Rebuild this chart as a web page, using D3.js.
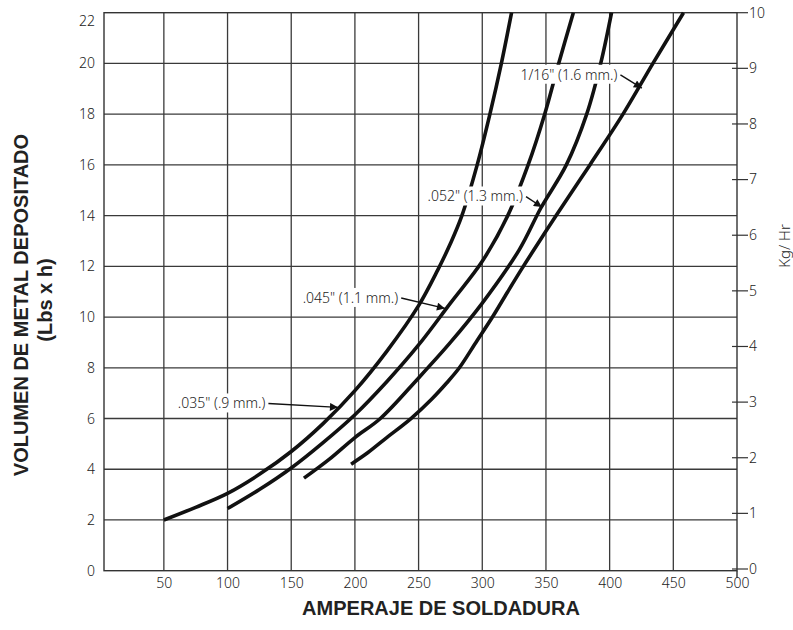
<!DOCTYPE html>
<html>
<head>
<meta charset="utf-8">
<script src="https://cdn.jsdelivr.net/npm/d3@7"></script>
<style>
  body { margin: 0; background: #ffffff; }
  svg { display: block; }
</style>
</head>
<body>
<div id="chart"></div>
<script>
// axis ticks
const ampTicks = [50, 100, 150, 200, 250, 300, 350, 400, 450, 500];
const lbsTicks = [0, 2, 4, 6, 8, 10, 12, 14, 16, 18, 20, 22];
const kgTicks = [0, 1, 2, 3, 4, 5, 6, 7, 8, 9, 10];

// wire sizes (amps -> lbs/h)
const amps035 = [50, 75, 100, 125, 150, 175, 200, 225, 250, 265, 275, 284, 296, 306, 315, 323];
const lbs035 = [2.0, 2.5, 3.05, 3.8, 4.7, 5.8, 7.1, 8.65, 10.45, 11.85, 12.9, 14.0, 16.0, 18.0, 20.0, 22.0];

const amps045 = [100, 125, 150, 175, 200, 225, 250, 275, 300, 320, 336, 349, 360, 371.5];
const lbs045 = [2.45, 3.2, 4.05, 5.05, 6.15, 7.45, 8.9, 10.55, 12.2, 14.0, 16.0, 18.0, 20.0, 22.0];

const amps052 = [160, 180, 200, 220, 250, 275, 300, 329, 346, 366, 382, 393, 401.5];
const lbs052 = [3.65, 4.4, 5.25, 6.0, 7.6, 9.0, 10.55, 12.65, 14.3, 16.0, 18.0, 20.0, 22.0];

const amps116 = [197, 210, 225, 244, 260, 272, 282, 295, 308, 320, 331, 345, 358, 384.5, 410.5, 434, 458];
const lbs116 = [4.2, 4.65, 5.25, 6.0, 6.75, 7.4, 8.0, 9.0, 10.0, 11.0, 11.9, 13.0, 14.0, 16.0, 18.0, 20.0, 22.0];

// callouts: label position and arrow tip, in data units
const calloutText = ['.035" (.9 mm.)', '.045" (1.1 mm.)', '.052" (1.3 mm.)', '1/16" (1.6 mm.)'];
const calloutAmp = [61, 159, 257, 330];
const calloutLbs = [6.59, 10.75, 14.75, 19.55];
const tipAmp = [186.7, 270.7, 346.8, 425.3];
const tipLbs = [6.44, 10.34, 14.34, 19.03];

const width = 793;
const height = 630;
const plot = { left: 104, right: 737, top: 12.7, bottom: 570.7 };

const lightFont = "'Noto Sans', 'DejaVu Sans', sans-serif";
const boldFont = "'Liberation Sans', Arial, sans-serif";

const x = d3.scaleLinear().domain([3, 500]).range([plot.left, plot.right]);
const y = d3.scaleLinear().domain([0, 22]).range([plot.bottom, plot.top]);
const yKg = d3.scaleLinear().domain([0, 10]).range([569, plot.top]);

const svg = d3
  .select("#chart")
  .append("svg")
  .attr("width", width)
  .attr("height", height);

// arrowhead
svg
  .append("defs")
  .append("marker")
  .attr("id", "arrow")
  .attr("viewBox", "0 0 10 10")
  .attr("refX", 10)
  .attr("refY", 5)
  .attr("markerWidth", 11)
  .attr("markerHeight", 8)
  .attr("markerUnits", "userSpaceOnUse")
  .attr("orient", "auto")
  .append("path")
  .attr("d", "M0,0 L10,5 L0,10 Z")
  .attr("fill", "#111");

// grid
const grid = svg.append("g").attr("stroke", "#3a3a3a").attr("stroke-width", 1.3);
grid
  .selectAll("line.v")
  .data(ampTicks.filter((d) => d < 500))
  .enter()
  .append("line")
  .attr("x1", (d) => x(d))
  .attr("x2", (d) => x(d))
  .attr("y1", plot.top)
  .attr("y2", plot.bottom);
grid
  .selectAll("line.h")
  .data(lbsTicks.filter((d) => d > 0 && d < 22))
  .enter()
  .append("line")
  .attr("x1", plot.left)
  .attr("x2", plot.right)
  .attr("y1", (d) => y(d))
  .attr("y2", (d) => y(d));

// frame
svg
  .append("rect")
  .attr("x", plot.left)
  .attr("y", plot.top)
  .attr("width", plot.right - plot.left)
  .attr("height", plot.bottom - plot.top)
  .attr("fill", "none")
  .attr("stroke", "#333")
  .attr("stroke-width", 1.4);
svg
  .append("line")
  .attr("x1", plot.right)
  .attr("x2", plot.right)
  .attr("y1", plot.bottom)
  .attr("y2", plot.bottom + 7)
  .attr("stroke", "#333")
  .attr("stroke-width", 1.4);

// left axis labels
const yAxis = svg
  .append("g")
  .attr("transform", `translate(${plot.left},0)`)
  .call(d3.axisLeft(y).tickValues(lbsTicks).tickSize(0).tickPadding(9));
yAxis.select(".domain").remove();
yAxis
  .selectAll("text")
  .attr("font-family", lightFont)
  .attr("font-size", "14px")
  .attr("font-weight", 300)
  .attr("fill", "#222")
  .attr("dy", (d) => (d === 22 ? "0.9em" : "0.32em"));

// bottom axis labels
const xAxis = svg
  .append("g")
  .attr("transform", `translate(0,${plot.bottom})`)
  .call(d3.axisBottom(x).tickValues(ampTicks).tickSize(0).tickPadding(7));
xAxis.select(".domain").remove();
xAxis
  .selectAll("text")
  .attr("font-family", lightFont)
  .attr("font-size", "14px")
  .attr("font-weight", 300)
  .attr("fill", "#222");

// right axis, kg/h
const kgAxis = svg.append("g").attr("transform", `translate(${plot.right},0)`);
kgAxis
  .selectAll("line")
  .data(kgTicks)
  .enter()
  .append("line")
  .attr("x1", (d) => (d === 10 ? 0 : -5))
  .attr("x2", 11)
  .attr("y1", (d) => yKg(d))
  .attr("y2", (d) => yKg(d))
  .attr("stroke", "#333")
  .attr("stroke-width", 1.2);
kgAxis
  .selectAll("text")
  .data(kgTicks)
  .enter()
  .append("text")
  .attr("x", 12)
  .attr("y", (d) => yKg(d))
  .attr("dy", "0.35em")
  .attr("font-family", lightFont)
  .attr("font-size", "14px")
  .attr("font-weight", 300)
  .attr("fill", "#222")
  .text((d) => d);

// curves
const series = [
  { amps: amps035, lbs: lbs035 },
  { amps: amps045, lbs: lbs045 },
  { amps: amps052, lbs: lbs052 },
  { amps: amps116, lbs: lbs116 },
];
const line = d3
  .line()
  .x((d) => x(d[0]))
  .y((d) => y(d[1]))
  .curve(d3.curveCatmullRom.alpha(0.5));

svg
  .selectAll("path.curve")
  .data(series)
  .enter()
  .append("path")
  .attr("class", "curve")
  .attr("d", (s) => line(s.amps.map((a, i) => [a, s.lbs[i]])))
  .attr("fill", "none")
  .attr("stroke", "#111")
  .attr("stroke-width", 3.6)
  .attr("stroke-linecap", "butt");

// callouts with white boxes and arrows
calloutText.forEach((label, i) => {
  const g = svg.append("g");
  const bg = g.append("rect").attr("fill", "#fff");
  const t = g
    .append("text")
    .attr("x", x(calloutAmp[i]))
    .attr("y", y(calloutLbs[i]))
    .attr("dy", "0.35em")
    .attr("font-family", lightFont)
    .attr("font-size", "14px")
    .attr("font-weight", 300)
    .attr("fill", "#222")
    .text(label);
  const box = t.node().getBBox();
  bg.attr("x", box.x - 2)
    .attr("y", box.y)
    .attr("width", box.width + 4)
    .attr("height", box.height);
  g.append("line")
    .attr("x1", box.x + box.width + 3)
    .attr("y1", y(calloutLbs[i]))
    .attr("x2", x(tipAmp[i]))
    .attr("y2", y(tipLbs[i]))
    .attr("stroke", "#111")
    .attr("stroke-width", 1.4)
    .attr("marker-end", "url(#arrow)");
});

// axis titles
svg
  .append("text")
  .attr("text-anchor", "middle")
  .attr("transform", "translate(28,305) rotate(-90)")
  .attr("font-family", boldFont)
  .attr("font-weight", "bold")
  .attr("font-size", "20px")
  .attr("fill", "#222")
  .text("VOLUMEN DE METAL DEPOSITADO");
svg
  .append("text")
  .attr("text-anchor", "middle")
  .attr("transform", "translate(52,300) rotate(-90)")
  .attr("font-family", boldFont)
  .attr("font-weight", "bold")
  .attr("font-size", "20px")
  .attr("fill", "#222")
  .text("(Lbs x h)");
svg
  .append("text")
  .attr("text-anchor", "middle")
  .attr("x", 441)
  .attr("y", 615)
  .attr("font-family", boldFont)
  .attr("font-weight", "bold")
  .attr("font-size", "20px")
  .attr("fill", "#222")
  .text("AMPERAJE DE SOLDADURA");
svg
  .append("text")
  .attr("text-anchor", "middle")
  .attr("transform", "translate(790,246) rotate(-90)")
  .attr("font-family", lightFont)
  .attr("font-size", "15px")
  .attr("font-weight", 300)
  .attr("fill", "#222")
  .text("Kg/ Hr");
</script>
</body>
</html>
